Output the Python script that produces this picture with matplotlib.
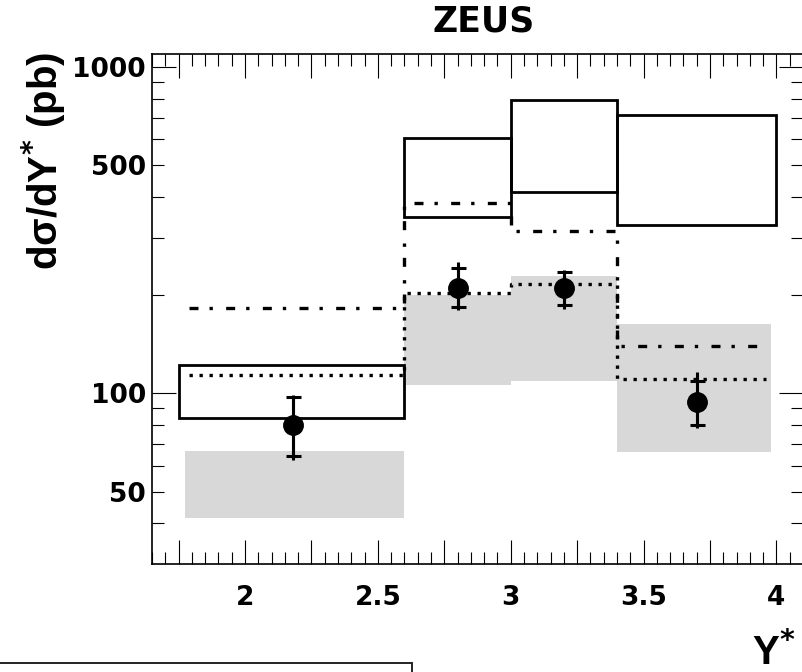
import matplotlib
matplotlib.use("Agg")
import matplotlib.pyplot as plt
from matplotlib.patches import Rectangle
from matplotlib.ticker import FixedLocator, MultipleLocator, FuncFormatter

plt.rcParams["font.family"] = ["DejaVu Sans"]
plt.rcParams["font.weight"] = "bold"

# ── data ───────────────────────────────────────────────────────────────────
box_edges = [1.75, 2.6, 3.0, 3.4, 4.0]
box_lo = [84, 347, 414, 328]
box_hi = [122, 604, 791, 711]

grey_left = [1.775, 2.6, 3.0, 3.4]
grey_right = [2.6, 3.0, 3.4, 3.98]
grey_lo = [41.6, 106, 109, 66.3]
grey_hi = [66.5, 200, 229, 163]

step_edges = [1.79, 2.6, 3.0, 3.4, 3.96]
dotted_vals = [114, 203, 216, 110.6]
dashdot_vals = [182, 384, 314, 140]

pt_x = [2.18, 2.80, 3.20, 3.70]
pt_y = [80, 211, 210, 94.3]
stat_hi = [97.4, 243, 236, 109.3]
stat_lo = [64.3, 184, 186, 80.0]
tot_hi = [98.8, 252, 238, 116.5]
tot_lo = [62.5, 180, 181, 78.1]

GREY = "#d8d8d8"

fig = plt.figure(figsize=(8.03, 6.72), dpi=100)
ax = fig.add_axes([152 / 803, 108 / 672, 651 / 803, 510.5 / 672])
ax.set_yscale("log")
ax.set_xlim(1.65, 4.1)
ax.set_ylim(30, 1100)

# grey bands
ax.bar(grey_left, [h - l for h, l in zip(grey_hi, grey_lo)], bottom=grey_lo,
       width=[r - l for r, l in zip(grey_right, grey_left)], align="edge",
       color=GREY, linewidth=0, zorder=1)

# step curves
ax.plot(step_edges, dotted_vals + dotted_vals[-1:], drawstyle="steps-post",
        color="k", lw=2.4, ls=(0, (1, 2)), zorder=2)
ax.plot(step_edges, dashdot_vals + dashdot_vals[-1:], drawstyle="steps-post",
        color="k", lw=2.4, ls=(0, (2.7, 3.3, 1, 4)), zorder=2)

# open boxes
ax.bar(box_edges[:-1], [h - l for h, l in zip(box_hi, box_lo)], bottom=box_lo,
       width=[b - a for a, b in zip(box_edges[:-1], box_edges[1:])], align="edge",
       fill=False, edgecolor="k", linewidth=2.0, zorder=3)

# data points
ax.vlines(pt_x, tot_lo, tot_hi, color="k", lw=2.2, zorder=4)
ax.errorbar(pt_x, pt_y,
            yerr=[[y - l for y, l in zip(pt_y, stat_lo)],
                  [h - y for y, h in zip(pt_y, stat_hi)]],
            fmt="o", ms=14, color="k", ecolor="k", elinewidth=2.2,
            capsize=5.4, capthick=2.2, zorder=5)

# ticks
ax.xaxis.set_major_locator(MultipleLocator(0.25))
ax.xaxis.set_minor_locator(MultipleLocator(0.05))
ax.xaxis.set_major_formatter(FuncFormatter(
    lambda v, p: f"{v:g}" if abs(v * 2 - round(v * 2)) < 1e-6 else ""))

ax.yaxis.set_major_locator(FixedLocator([100, 1000]))
ax.yaxis.set_minor_locator(FixedLocator([40, 50, 60, 70, 80, 90,
                                         200, 300, 400, 500, 600, 700, 800, 900]))
ax.yaxis.set_major_formatter(FuncFormatter(lambda v, p: f"{v:g}"))
ax.yaxis.set_minor_formatter(FuncFormatter(
    lambda v, p: f"{v:g}" if round(v) in (50, 500) else ""))

ax.tick_params(axis="both", which="both", direction="in", top=True, right=True,
               width=0.8, labelsize=19)
ax.tick_params(axis="both", which="major", length=17.5)
ax.tick_params(axis="both", which="minor", length=8.7)
ax.tick_params(axis="y", which="both", pad=4.3)
ax.tick_params(axis="x", which="both", pad=15)
for s in ax.spines.values():
    s.set_linewidth(1.2)

# texts
fig.text(484 / 803, 1 - 31.7 / 672, "ZEUS", ha="center", va="baseline",
         fontsize=25, fontweight="bold")
fig.text(58 / 803, (672 - 269.6) / 672, "dσ/dY$^{*}$ (pb)", rotation=90,
         rotation_mode="anchor", ha="left", va="baseline",
         fontsize=29, fontweight="bold", family=["Liberation Sans", "DejaVu Sans"])
fig.text(752 / 803, 7 / 672, "Y$^{*}$", ha="left", va="baseline",
         fontsize=29, fontweight="bold", family=["Liberation Sans", "DejaVu Sans"])

# legend frame (cut off at the bottom of the picture)
fig.add_artist(Rectangle((-0.01, -0.05), 412 / 803 + 0.01, 9 / 672 + 0.05,
                         transform=fig.transFigure, fill=False,
                         edgecolor="#222222", linewidth=1.4))

fig.savefig("out.png", dpi=100)
